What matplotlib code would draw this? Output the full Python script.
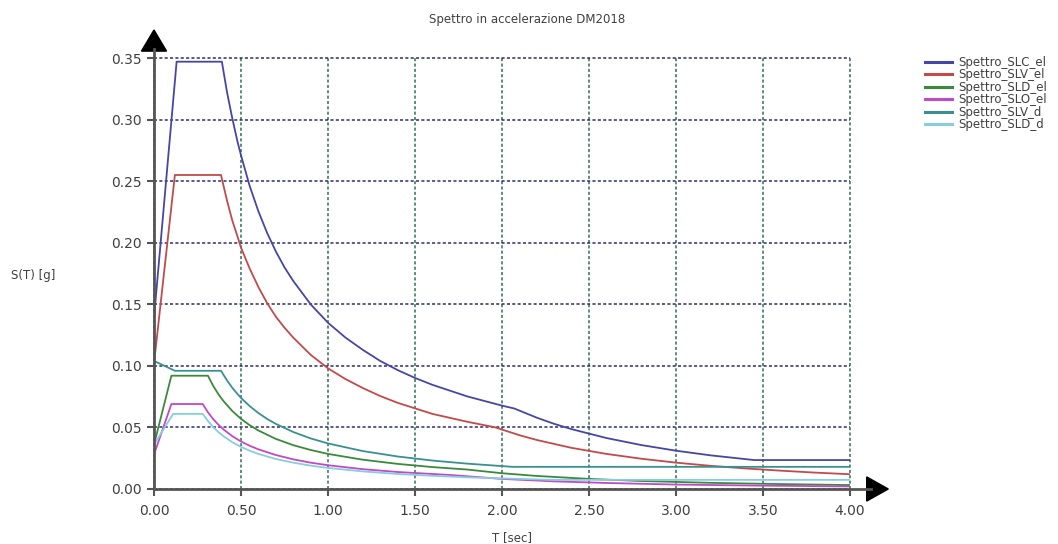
#!/usr/bin/env python3
"""
Spettro in accelerazione DM2018 - elastic and design spectra
"""

import matplotlib
matplotlib.use("Agg")
import matplotlib.pyplot as plt
from matplotlib.patches import Polygon

# Valori (T in sec, S in g)
T_slc_el = [0.0, 0.13, 0.39, 0.42, 0.45, 0.48, 0.50, 0.55, 0.60, 0.65, 0.70, 0.75, 0.80,
            0.90, 1.00, 1.10, 1.20, 1.30, 1.40, 1.50, 1.60, 1.80, 2.00, 2.07, 2.20, 2.30,
            2.40, 2.60, 2.80, 3.00, 3.20, 3.45, 4.00]
S_slc_el = [0.139, 0.347, 0.347, 0.322, 0.301, 0.282, 0.271, 0.246, 0.2255, 0.208, 0.193,
            0.180, 0.169, 0.150, 0.135, 0.123, 0.113, 0.104, 0.0966, 0.0902, 0.0846, 0.0752,
            0.0677, 0.0654, 0.0579, 0.0529, 0.0486, 0.0414, 0.0357, 0.0311, 0.0273, 0.0235,
            0.0235]

T_slv_el = [0.0, 0.12, 0.385, 0.42, 0.45, 0.48, 0.50, 0.55, 0.60, 0.65, 0.70, 0.75, 0.80,
            0.90, 1.00, 1.10, 1.20, 1.30, 1.40, 1.50, 1.60, 1.80, 1.96, 2.10, 2.20, 2.40,
            2.60, 2.80, 3.00, 3.20, 3.40, 3.60, 3.80, 4.00]
S_slv_el = [0.102, 0.255, 0.255, 0.234, 0.218, 0.205, 0.196, 0.179, 0.164, 0.151, 0.140,
            0.131, 0.123, 0.109, 0.098, 0.0893, 0.082, 0.0755, 0.070, 0.0655, 0.061, 0.0546,
            0.0501, 0.0437, 0.0398, 0.0334, 0.0285, 0.0246, 0.0214, 0.0188, 0.0167, 0.0149,
            0.0133, 0.0120]

T_sld_el = [0.0, 0.10, 0.31, 0.34, 0.37, 0.40, 0.45, 0.50, 0.55, 0.60, 0.70, 0.80, 0.90,
            1.00, 1.20, 1.40, 1.60, 1.80, 2.00, 2.20, 2.50, 2.80, 3.20, 3.60, 4.00]
S_sld_el = [0.036, 0.092, 0.092, 0.0838, 0.0770, 0.0713, 0.0633, 0.057, 0.0518, 0.0475,
            0.0407, 0.0356, 0.0317, 0.0285, 0.0238, 0.0204, 0.0178, 0.0158, 0.0128, 0.0106,
            0.0082, 0.0065, 0.0050, 0.0040, 0.0032]

T_slo_el = [0.0, 0.10, 0.28, 0.31, 0.34, 0.37, 0.40, 0.45, 0.50, 0.55, 0.60, 0.70, 0.80,
            0.90, 1.00, 1.20, 1.40, 1.70, 2.00, 2.30, 2.60, 3.00, 3.50, 4.00]
S_slo_el = [0.028, 0.069, 0.069, 0.0623, 0.0568, 0.0522, 0.0483, 0.0429, 0.0386, 0.0351,
            0.0322, 0.0276, 0.0241, 0.0214, 0.0193, 0.0161, 0.0138, 0.0114, 0.0082, 0.0062,
            0.0049, 0.0036, 0.0027, 0.0021]

T_slv_d = [0.0, 0.12, 0.385, 0.42, 0.45, 0.48, 0.50, 0.55, 0.60, 0.65, 0.70, 0.80, 0.90,
           1.00, 1.20, 1.40, 1.60, 1.80, 2.06, 4.00]
S_slv_d = [0.104, 0.096, 0.096, 0.0881, 0.0822, 0.0771, 0.074, 0.0673, 0.0617, 0.0569,
           0.0529, 0.0463, 0.0411, 0.037, 0.0308, 0.0264, 0.0231, 0.0206, 0.018, 0.018]

T_sld_d = [0.0, 0.11, 0.28, 0.31, 0.34, 0.37, 0.40, 0.45, 0.50, 0.55, 0.60, 0.70, 0.80,
           0.90, 1.00, 1.20, 1.40, 1.60, 1.80, 2.00, 2.30, 4.00]
S_sld_d = [0.036, 0.061, 0.061, 0.0552, 0.0503, 0.0462, 0.0428, 0.038, 0.0342, 0.0311,
           0.0285, 0.0244, 0.0214, 0.019, 0.0171, 0.0143, 0.0122, 0.0107, 0.0095, 0.0086,
           0.0074, 0.0074]

x_ticks = [0.0, 0.5, 1.0, 1.5, 2.0, 2.5, 3.0, 3.5, 4.0]
y_ticks = [0.0, 0.05, 0.10, 0.15, 0.20, 0.25, 0.30, 0.35]

series = [
    ("Spettro_SLC_el", T_slc_el, S_slc_el, "#4646a6"),
    ("Spettro_SLV_el", T_slv_el, S_slv_el, "#c24a4a"),
    ("Spettro_SLD_el", T_sld_el, S_sld_el, "#3b8a3b"),
    ("Spettro_SLO_el", T_slo_el, S_slo_el, "#c248c8"),
    ("Spettro_SLV_d", T_slv_d, S_slv_d, "#3a9090"),
    ("Spettro_SLD_d", T_sld_d, S_sld_d, "#86cde0"),
]

plt.rcParams["font.family"] = ["DejaVu Sans"]
AXIS_COL = "#555555"
TEXT_COL = "#404040"

fig = plt.figure(figsize=(10.58, 5.44), dpi=100)
ax = fig.add_axes([154 / 1058, 55 / 544, 696 / 1058, 431 / 544])

for label, t, s, col in series:
    ax.plot(t, s, color=col, lw=1.3, label=label)

ax.set_xlim(0, 4)
ax.set_ylim(0, 0.35)
ax.set_xticks(x_ticks)
ax.set_yticks(y_ticks)
ax.set_xticklabels([f"{v:.2f}" for v in x_ticks])
ax.set_yticklabels([f"{v:.2f}" for v in y_ticks])

# griglia: orizzontale blu scuro, verticale verde, entrambe punteggiate
ax.yaxis.grid(True, color="#2c2c6c", ls=(0, (2, 1.5)), lw=1.1)
ax.xaxis.grid(True, color="#2f6f55", ls=(0, (2, 1.5)), lw=1.1)
ax.set_axisbelow(True)
for gl in ax.get_xgridlines() + ax.get_ygridlines():
    gl.set_clip_on(False)

for sp in ax.spines.values():
    sp.set_visible(False)

ax.tick_params(axis="both", colors=AXIS_COL, labelcolor=TEXT_COL, labelsize=10,
               length=5, width=1.5, direction="out")
ax.tick_params(axis="x", pad=6)
ax.tick_params(axis="y", pad=4)

# assi con frecce
ax.plot([0, 0], [0, 1.02], transform=ax.transAxes, color=AXIS_COL, lw=2, clip_on=False)
ax.plot([0, 1.03], [0, 0], transform=ax.transAxes, color=AXIS_COL, lw=2, clip_on=False)
ax.add_patch(Polygon([(-0.018, 1.016), (0.018, 1.016), (0.0, 1.065)], closed=True,
                     transform=ax.transAxes, color="black", clip_on=False))
ax.add_patch(Polygon([(1.024, -0.028), (1.024, 0.028), (1.055, 0.0)], closed=True,
                     transform=ax.transAxes, color="black", clip_on=False))

fig.text(527 / 1058, 1 - 19 / 544, "Spettro in accelerazione DM2018", ha="center",
         va="center", fontsize=8.5, color=TEXT_COL)
fig.text(512 / 1058, 1 - 538 / 544, "T [sec]", ha="center", va="center",
         fontsize=8.5, color=TEXT_COL)
fig.text(33 / 1058, 1 - 275 / 544, "S(T) [g]", ha="center", va="center",
         fontsize=8.5, color=TEXT_COL)

leg = ax.legend(loc="upper left", bbox_to_anchor=(925 / 1058, 1 - 56 / 544),
                bbox_transform=fig.transFigure, frameon=False, fontsize=8.5,
                handlelength=2.3, handletextpad=0.5, labelspacing=-0.05,
                borderpad=0, borderaxespad=0)
for txt in leg.get_texts():
    txt.set_color(TEXT_COL)
for line in leg.get_lines():
    line.set_linewidth(2.2)

fig.savefig("out.png", dpi=100)
